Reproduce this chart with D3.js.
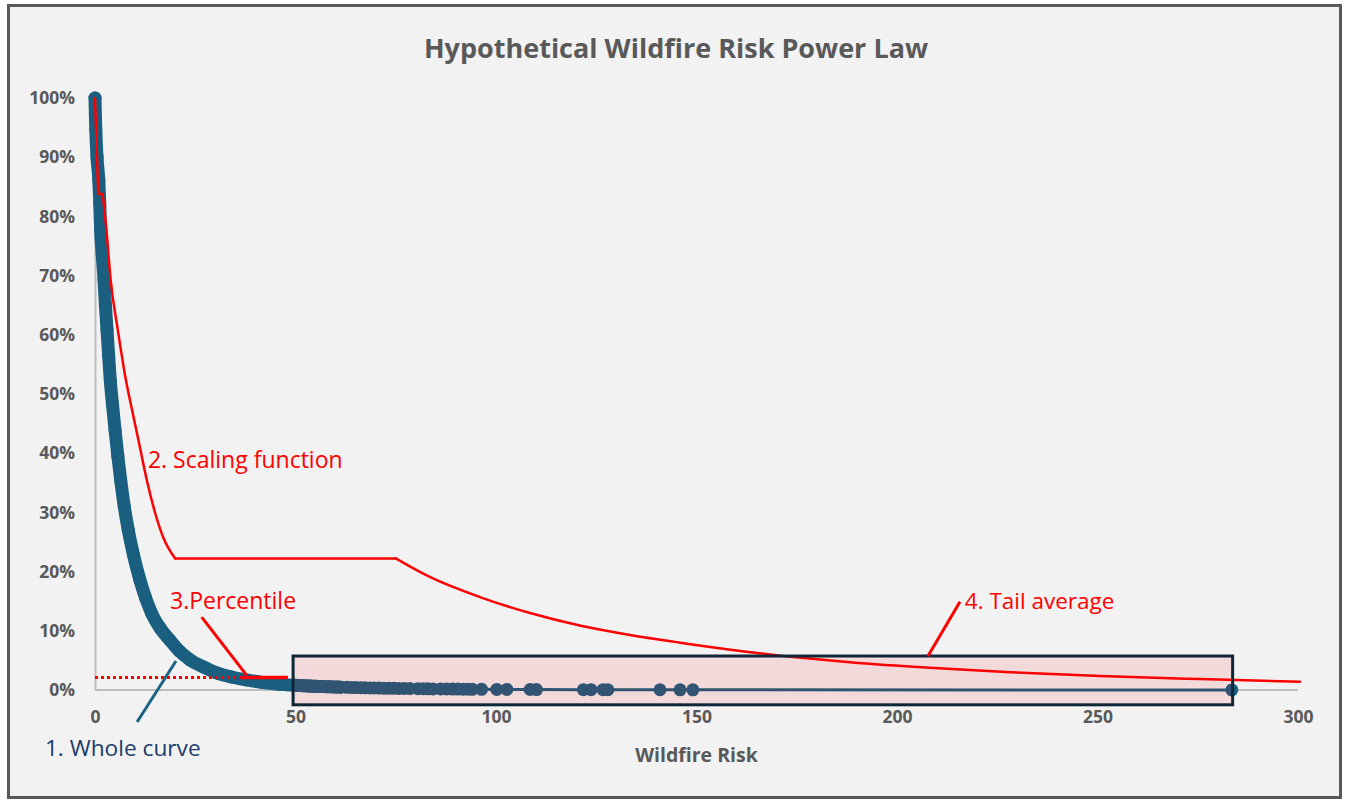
<!DOCTYPE html>
<html>
<head>
<meta charset="utf-8">
<script src="https://cdn.jsdelivr.net/npm/d3@7"></script>
<style>
  html, body { margin: 0; padding: 0; background: #ffffff; }
  svg { display: block; }
</style>
</head>
<body>
<svg id="chart" width="1347" height="803"></svg>
<script>
// ---- chart data -------------------------------------------------------
const title = "Hypothetical Wildfire Risk Power Law";
const xAxisTitle = "Wildfire Risk";
const xTickValues = [0, 50, 100, 150, 200, 250, 300];
const yTickValues = [0, 0.1, 0.2, 0.3, 0.4, 0.5, 0.6, 0.7, 0.8, 0.9, 1.0];

// dense head of the distribution (share of cells at or above a risk level)
const headRisk  = [0, 0.1, 0.2, 0.5, 0.95, 1.2, 1.4, 1.8, 2.25, 2.6, 3.0, 3.4, 3.8, 4.4, 5.0, 5.7, 6.4, 7.3, 8.3, 9.6, 11.2, 12.6, 14.1, 16.2, 18.7, 21.0, 23.7, 27.0, 30.3, 34.0, 37.8, 42.0, 46.0, 50.0];
const headShare = [1.00, 0.97, 0.946, 0.90, 0.861, 0.82, 0.777, 0.735, 0.693, 0.65, 0.608, 0.565, 0.524, 0.48, 0.439, 0.395, 0.355, 0.31, 0.27, 0.228, 0.186, 0.156, 0.13, 0.105, 0.084, 0.066, 0.051, 0.039, 0.029, 0.022, 0.017, 0.0125, 0.0095, 0.008];

// sparse tail of the distribution
const tailRisk  = [50.5, 51, 51.5, 52, 52.6, 53.2, 53.8, 54.5, 55.2, 56, 56.8, 57.6, 58.5, 59.4, 60.3, 61.3, 62.8, 63.9, 65, 66.2, 67.3, 68.5, 69.6, 70.8, 72, 73.2, 74.5, 75.8, 77.1, 78.5, 80.5, 81.8, 83, 84.3, 86.2, 87.7, 89.2, 90.5, 91.8, 93, 94.1, 96.4, 100.2, 102.7, 108.5, 110.1, 121.8, 123.7, 126.7, 127.9, 140.9, 145.9, 149.1, 283.5];
const tailShare = [0.0078, 0.0076, 0.0074, 0.0072, 0.0070, 0.0068, 0.0066, 0.0064, 0.0062, 0.0060, 0.0058, 0.0056, 0.0054, 0.0052, 0.0050, 0.0048, 0.0045, 0.0043, 0.0041, 0.0039, 0.0037, 0.0035, 0.0034, 0.0032, 0.0031, 0.0029, 0.0028, 0.0027, 0.0025, 0.0024, 0.0022, 0.0021, 0.0020, 0.0019, 0.0018, 0.0017, 0.0016, 0.0015, 0.0014, 0.0013, 0.0012, 0.0011, 0.0010, 0.0009, 0.0008, 0.0007, 0.0006, 0.0005, 0.0005, 0.0004, 0.0004, 0.0003, 0.0003, 0.0001];

// scaling function (red), one array per piece: drop, step, decay, plateau, decay
const scalePieces = [
  { risk: [0, 0.8],                                             share: [1.00, 0.838] },
  { risk: [0.8, 1.9],                                           share: [0.838, 0.838] },
  { risk: [1.9, 2.9, 3.9, 5.7, 7.7, 9.4, 11.2, 12.9, 15.0, 17.0, 20.0],
    share: [0.838, 0.774, 0.693, 0.608, 0.524, 0.468, 0.41, 0.355, 0.299, 0.258, 0.222] },
  { risk: [20.0, 75.1],                                         share: [0.222, 0.222] },
  { risk: [75.1, 83.5, 96.0, 108.5, 120.9, 133.4, 145.9, 168.3, 188.3, 208.2, 228.2, 250.6, 275.6, 300.5],
    share: [0.222, 0.191, 0.157, 0.130, 0.109, 0.093, 0.080, 0.060, 0.047, 0.0375, 0.030, 0.0238, 0.0185, 0.014] }
];

// percentile threshold and tail window
const percentileShare = 0.021;
const percentileRisk  = [36.2, 48.1];
const tailWindowRisk  = [49.4, 283.7];
const tailWindowShare = [-0.025, 0.0574];

// annotation labels: text, anchor (risk, share), leader line from/to
const notes = [
  { text: "1. Whole curve",      color: "#203a6c", size: 22.7, at: [-12.5, -0.111], leader: [[10.5, -0.054], [20.2, 0.049]], leaderColor: "#1a6384" },
  { text: "2. Scaling function", color: "#ff0000", size: 23,   at: [13.2, 0.375],  leader: null },
  { text: "3.Percentile",        color: "#ff0000", size: 23,   at: [18.7, 0.137],  leader: [[26.6, 0.123], [37.8, 0.025]], leaderColor: "#ff0000" },
  { text: "4. Tail average",     color: "#ff0000", size: 22.5, at: [216.9, 0.137], leader: [[207.7, 0.057], [215.7, 0.149]], leaderColor: "#ff0000" }
];

// ---- drawing ----------------------------------------------------------
const font = "'Open Sans', 'Noto Sans', sans-serif";
const svg = d3.select("#chart");

// chart frame
svg.append("rect")
  .attr("x", 8.5).attr("y", 5.5).attr("width", 1332).attr("height", 792)
  .attr("fill", "#f2f2f2").attr("stroke", "#595959").attr("stroke-width", 3);

const x = d3.scaleLinear().domain([0, 300]).range([95, 1298]);
const y = d3.scaleLinear().domain([0, 1]).range([690, 98]);

// title
svg.append("text")
  .attr("x", 676).attr("y", 58)
  .attr("text-anchor", "middle")
  .attr("font-family", font).attr("font-weight", 700).attr("font-size", 27)
  .attr("fill", "#595959")
  .text(title);

// axes
const xAxis = svg.append("g").attr("transform", `translate(0,${y(0)})`)
  .call(d3.axisBottom(x).tickValues(xTickValues).tickSize(0).tickPadding(21).tickFormat(d3.format("d")));
const yAxis = svg.append("g").attr("transform", `translate(${x(0)},0)`)
  .call(d3.axisLeft(y).tickValues(yTickValues).tickSize(0).tickPadding(20).tickFormat(d3.format(".0%")));
[xAxis, yAxis].forEach(g => {
  g.select(".domain").attr("stroke", "#bfbfbf").attr("stroke-width", 2);
  g.selectAll("text")
    .attr("font-family", font).attr("font-weight", 700).attr("font-size", 17.5)
    .attr("fill", "#595959");
});
// extend x axis line to the full plot width
xAxis.select(".domain").attr("d", `M${x(0)},0H${x(300)}`);

svg.append("text")
  .attr("x", (x(0) + x(300)) / 2).attr("y", 762)
  .attr("text-anchor", "middle")
  .attr("font-family", font).attr("font-weight", 700).attr("font-size", 19.5)
  .attr("fill", "#595959")
  .text(xAxisTitle);

// whole curve: dense head drawn as a band of overlapping markers
const blue = "#1a5e80";
const headPts = headRisk.map((r, i) => [r, headShare[i]]);
const tailPts = tailRisk.map((r, i) => [r, tailShare[i]]);
const line = d3.line().x(d => x(d[0])).y(d => y(d[1]));

svg.append("path").datum(headPts.concat(tailPts.slice(0, 16)))
  .attr("d", line.curve(d3.curveMonotoneX)).attr("fill", "none")
  .attr("stroke", blue).attr("stroke-width", 13)
  .attr("stroke-linecap", "round").attr("stroke-linejoin", "round");
line.curve(d3.curveLinear);

svg.append("path").datum(headPts.slice(-1).concat(tailPts))
  .attr("d", line).attr("fill", "none")
  .attr("stroke", blue).attr("stroke-width", 3);

svg.append("g").selectAll("circle").data(headPts.concat(tailPts)).join("circle")
  .attr("cx", d => x(d[0])).attr("cy", d => y(d[1])).attr("r", 6.5)
  .attr("fill", blue);

// scaling function, each piece smooth, sharp corners between pieces
const smooth = d3.line().x(d => x(d[0])).y(d => y(d[1])).curve(d3.curveMonotoneX);
svg.append("g").selectAll("path").data(scalePieces).join("path")
  .attr("d", p => smooth(p.risk.map((r, i) => [r, p.share[i]])))
  .attr("fill", "none")
  .attr("stroke", "#ff0000").attr("stroke-width", 2.5)
  .attr("stroke-linecap", "round");

// percentile threshold
svg.append("line")
  .attr("x1", x(0)).attr("x2", x(percentileRisk[0]))
  .attr("y1", y(percentileShare)).attr("y2", y(percentileShare))
  .attr("stroke", "#ff0000").attr("stroke-width", 3).attr("stroke-dasharray", "3,3");
svg.append("line")
  .attr("x1", x(percentileRisk[0])).attr("x2", x(percentileRisk[1]))
  .attr("y1", y(percentileShare)).attr("y2", y(percentileShare))
  .attr("stroke", "#ff0000").attr("stroke-width", 3.5);

// tail window
svg.append("rect")
  .attr("x", x(tailWindowRisk[0])).attr("y", y(tailWindowShare[1]))
  .attr("width", x(tailWindowRisk[1]) - x(tailWindowRisk[0]))
  .attr("height", y(tailWindowShare[0]) - y(tailWindowShare[1]))
  .attr("fill", "rgba(255,0,0,0.1)")
  .attr("stroke", "#0d2738").attr("stroke-width", 3);

// annotations
notes.forEach(n => {
  if (n.leader) {
    svg.append("line")
      .attr("x1", x(n.leader[0][0])).attr("y1", y(n.leader[0][1]))
      .attr("x2", x(n.leader[1][0])).attr("y2", y(n.leader[1][1]))
      .attr("stroke", n.leaderColor).attr("stroke-width", 3);
  }
  svg.append("text")
    .attr("x", x(n.at[0])).attr("y", y(n.at[1]))
    .attr("font-family", font).attr("font-size", n.size)
    .attr("fill", n.color)
    .text(n.text);
});
</script>
</body>
</html>
